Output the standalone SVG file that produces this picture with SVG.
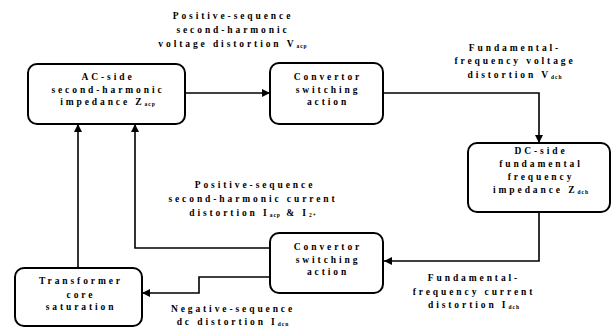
<svg xmlns="http://www.w3.org/2000/svg" width="614" height="328" viewBox="0 0 614 328">
<style>
.box{fill:#fff;stroke:#000;stroke-width:2}
.ln{fill:none;stroke:#000;stroke-width:1.6}
text{font-family:"Liberation Serif","Times New Roman",serif;font-weight:bold;font-size:9.5px;letter-spacing:2.9px;fill:#000;text-anchor:middle}
.s{font-size:5.5px;letter-spacing:1px}
</style>
<defs>
<marker id="ah" viewBox="0 0 10 10" refX="10" refY="5" markerWidth="9" markerHeight="8" markerUnits="userSpaceOnUse" orient="auto">
<path d="M0,0 L10,5 L0,10 Z" fill="#000"/>
</marker>
</defs>
<rect width="614" height="328" fill="#fff"/>
<g id="connectors">
<path class="ln" d="M185,93 H270" marker-end="url(#ah)"/>
<path class="ln" d="M383,93 H539 V143" marker-end="url(#ah)"/>
<path class="ln" d="M539,212 V261 H384" marker-end="url(#ah)"/>
<path class="ln" d="M270,248 H135 V124" marker-end="url(#ah)"/>
<path class="ln" d="M78,268 V124" marker-end="url(#ah)"/>
<path class="ln" d="M270,277 H199 V293 H142" marker-end="url(#ah)"/>
</g>
<g id="ac-side">
<rect class="box" x="28" y="64" width="157" height="60" rx="9"/>
<text x="108" y="80">ΑC-side</text>
<text x="108" y="93">second-harmonic</text>
<text x="108" y="105">impedance Z<tspan class="s" dy="1">acp</tspan></text>
</g>
<g id="convertor-top">
<rect class="box" x="270" y="63" width="113" height="61" rx="9"/>
<text x="328" y="80">Convertor</text>
<text x="328" y="93">switching</text>
<text x="328" y="105">action</text>
</g>
<g id="dc-side">
<rect class="box" x="468" y="143" width="142" height="69" rx="9"/>
<text x="541" y="154">DC-side</text>
<text x="541" y="167">fundamental</text>
<text x="541" y="180">frequency</text>
<text x="541" y="193">impedance Z<tspan class="s" dy="1">dch</tspan></text>
</g>
<g id="convertor-bottom">
<rect class="box" x="270" y="233" width="113" height="60" rx="9"/>
<text x="328" y="250">Convertor</text>
<text x="328" y="263">switching</text>
<text x="328" y="275">action</text>
</g>
<g id="transformer">
<rect class="box" x="15" y="268" width="127" height="58" rx="9"/>
<text x="81" y="284">Transformer</text>
<text x="81" y="298">core</text>
<text x="81" y="310">saturation</text>
</g>
<g id="labels">
<text x="233" y="19">Positive-sequence</text>
<text x="233" y="33">second-harmonic</text>
<text x="233" y="47">voltage distortion V<tspan class="s" dy="1">acp</tspan></text>
<text x="515" y="51">Fundamental-</text>
<text x="515" y="64">frequency voltage</text>
<text x="515" y="78">distortion V<tspan class="s" dy="1">dch</tspan></text>
<text x="255" y="188">Positive-sequence</text>
<text x="253" y="202">second-harmonic current</text>
<text x="253" y="216">distortion I<tspan class="s" dy="1">acp</tspan><tspan dy="-1"> &amp; I</tspan><tspan class="s" dy="1">2+</tspan></text>
<text x="474" y="281">Fundamental-</text>
<text x="474" y="295">frequency current</text>
<text x="474" y="308">distortion I<tspan class="s" dy="1">dch</tspan></text>
<text x="233" y="312">Negative-sequence</text>
<text x="233" y="325">dc distortion I<tspan class="s" dy="1">dcn</tspan></text>
</g>
</svg>
